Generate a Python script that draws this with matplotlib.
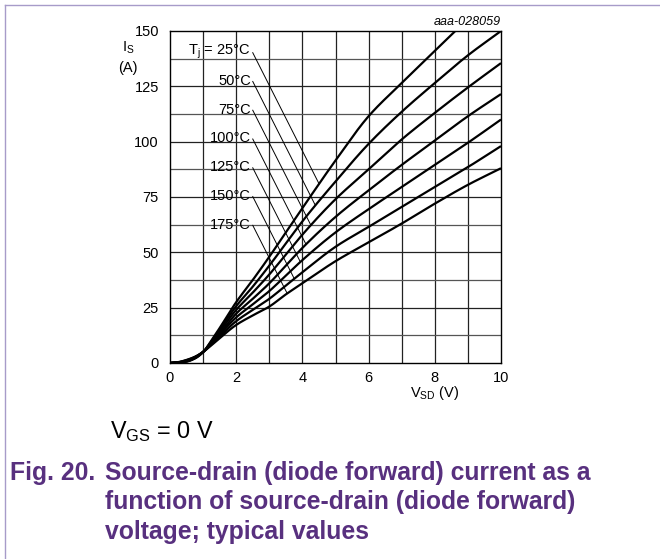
import numpy as np
import matplotlib
matplotlib.use("Agg")
import matplotlib.pyplot as plt
from matplotlib.lines import Line2D

plt.rcParams['font.family'] = ['Liberation Sans', 'DejaVu Sans']
plt.rcParams['mathtext.fontset'] = 'custom'
plt.rcParams['mathtext.rm'] = 'Liberation Sans'
plt.rcParams['mathtext.it'] = 'Liberation Sans:italic'
plt.rcParams['mathtext.bf'] = 'Liberation Sans:bold'

# ---- data ----
temps = ["25", "50", "75", "100", "125", "150", "175"]
v_sd = [0, 0.25, 0.5, 0.75, 1.0, 1.25, 1.5, 2.0, 2.5, 3.0, 3.5, 4.0, 5.0, 6.0, 7.0, 8.0, 9.0, 10.0]
v_25 = [0, 0.25, 0.5, 0.75, 1.0, 1.25, 1.5, 2.0, 2.5, 3.0, 3.5, 4.0, 5.0, 6.0, 7.0, 8.0, 8.62]
i_25 = [0, 0.1, 0.6, 2.0, 4.9, 10.2, 15.8, 27.5, 37.5, 48.0, 59.0, 70.0, 91.5, 111.5, 126.5, 141.0, 150.0]
i_50 = [0, 0.15, 0.7, 2.15, 4.95, 9.8, 15.0, 25.7, 34.5, 44.0, 54.0, 64.0, 82.0, 99.0, 113.5, 126.5, 139.0, 150.0]
i_75 = [0, 0.2, 0.8, 2.3, 5.0, 9.4, 14.2, 24.0, 31.8, 40.0, 49.0, 58.0, 74.0, 87.5, 101.0, 113.0, 124.5, 135.5]
i_100 = [0, 0.25, 0.95, 2.45, 5.0, 9.0, 13.4, 22.3, 29.0, 36.0, 44.0, 52.0, 66.0, 78.0, 89.5, 100.5, 111.5, 121.5]
i_125 = [0, 0.3, 1.1, 2.6, 5.0, 8.7, 12.7, 20.6, 26.5, 32.5, 39.5, 46.5, 59.0, 69.5, 79.5, 89.5, 99.5, 110.0]
i_150 = [0, 0.35, 1.25, 2.7, 5.0, 8.4, 12.0, 18.9, 24.0, 29.0, 35.0, 41.0, 52.5, 61.5, 70.5, 79.5, 88.5, 98.0]
i_175 = [0, 0.4, 1.4, 2.8, 5.0, 8.0, 11.2, 17.2, 21.5, 25.5, 31.0, 36.0, 46.0, 54.5, 63.0, 72.0, 80.5, 88.0]

series = [(v_25, i_25)] + [(v_sd, s) for s in (i_50, i_75, i_100, i_125, i_150, i_175)]
label_y = [140.5, 127.5, 114.5, 101.5, 88.5, 75.5, 62.5]
labels = [r"T$_\mathregular{j}$ = 25°C"] + [t + "°C" for t in temps[1:]]

x_ticks = [0, 2, 4, 6, 8, 10]
y_ticks = [0, 25, 50, 75, 100, 125, 150]


def pchip_draw(x, y, n=600):
    """Monotone cubic (Fritsch-Carlson) curve through the read points, for drawing."""
    x = np.asarray(x, float)
    y = np.asarray(y, float)
    h = np.diff(x)
    d = np.diff(y) / h
    m = np.zeros_like(y)
    for k in range(1, len(x) - 1):
        if d[k - 1] * d[k] > 0:
            w1 = 2 * h[k] + h[k - 1]
            w2 = h[k] + 2 * h[k - 1]
            m[k] = (w1 + w2) / (w1 / d[k - 1] + w2 / d[k])
    m[0] = d[0]
    m[-1] = d[-1]
    xs = np.linspace(x[0], x[-1], n)
    idx = np.clip(np.searchsorted(x, xs) - 1, 0, len(x) - 2)
    t = (xs - x[idx]) / h[idx]
    h00 = 2 * t**3 - 3 * t**2 + 1
    h10 = t**3 - 2 * t**2 + t
    h01 = -2 * t**3 + 3 * t**2
    h11 = t**3 - t**2
    ys = h00 * y[idx] + h10 * h[idx] * m[idx] + h01 * y[idx + 1] + h11 * h[idx] * m[idx + 1]
    return xs, ys


fig = plt.figure(figsize=(6.6, 5.59), dpi=100)
ax = fig.add_axes([170/660, 1 - 363/559, 331/660, 332/559])
ax.set_xlim(0, 10)
ax.set_ylim(0, 150)

# grid
for v in range(1, 10):
    ax.axvline(v, color='#222222', lw=0.9, zorder=1)
for k in range(1, 12):
    y = k * 12.5
    ax.axhline(y, color='#222222' if k % 2 == 0 else '#555555', lw=0.9, zorder=1)

smooth = []
for (xs, ys) in series:
    sx, sy = pchip_draw(xs, ys)
    smooth.append((sx, sy))
    ax.plot(sx, sy, color='black', lw=1.6, zorder=3, solid_capstyle='butt')

# labels and leader lines
slope = -29.6
x0 = 2.5
for (sx, sy), ly, lab in zip(smooth, label_y, labels):
    ax.text(2.44, ly, lab, ha='right', va='center', fontsize=10.5, zorder=4)
    ys0 = ly - 0.3
    fine = np.linspace(2.6, min(sx[-1], 6), 2000)
    cv = np.interp(fine, sx, sy)
    lv = ys0 + slope * (fine - x0)
    idx = np.argmax(cv - lv >= 0)
    ax.plot([x0, fine[idx]], [ys0, cv[idx]], color='black', lw=0.7, zorder=2)

ax.set_xticks(x_ticks)
ax.set_yticks(y_ticks)
ax.tick_params(length=0, labelsize=10.5, colors='black')
ax.tick_params(axis='y', pad=8)
ax.tick_params(axis='x', pad=6)
for s in ax.spines.values():
    s.set_linewidth(1.0)
    s.set_color('black')

fig.text(128/660, 1 - 48/559, r"I$_\mathregular{S}$", ha='center', va='center', fontsize=10.5)
fig.text(128/660, 1 - 68/559, "(A)", ha='center', va='center', fontsize=10.5)
fig.text(435/660, 1 - 393/559, r"V$_\mathregular{SD}$ (V)", ha='center', va='center', fontsize=10.5)
fig.text(501/660, 1 - 22/559, "aaa-028059", ha='right', va='center', fontsize=9, style='italic')

fig.text(110/660, 1 - 432/559, r"V$_\mathregular{GS}$ = 0 V", ha='left', va='center', fontsize=16.8)

purple = '#58307f'
cap_fs = 17.8
cap = ["Source-drain (diode forward) current as a",
       "function of source-drain (diode forward)",
       "voltage; typical values"]
fig.text(10/660, 1 - 473/559, "Fig. 20.", ha='left', va='center', fontsize=cap_fs,
         fontweight='bold', color=purple)
for i, line in enumerate(cap):
    fig.text(105/660, 1 - (473 + 29.5 * i)/559, line, ha='left', va='center', fontsize=cap_fs,
             fontweight='bold', color=purple)

# frame lines at left and top
fig.add_artist(Line2D([5/660, 5/660], [0, 1 - 5/559], transform=fig.transFigure, color='#a79bc9', lw=1))
fig.add_artist(Line2D([5/660, 1], [1 - 5/559, 1 - 5/559], transform=fig.transFigure, color='#a79bc9', lw=1))

fig.savefig("out.png", dpi=100)
